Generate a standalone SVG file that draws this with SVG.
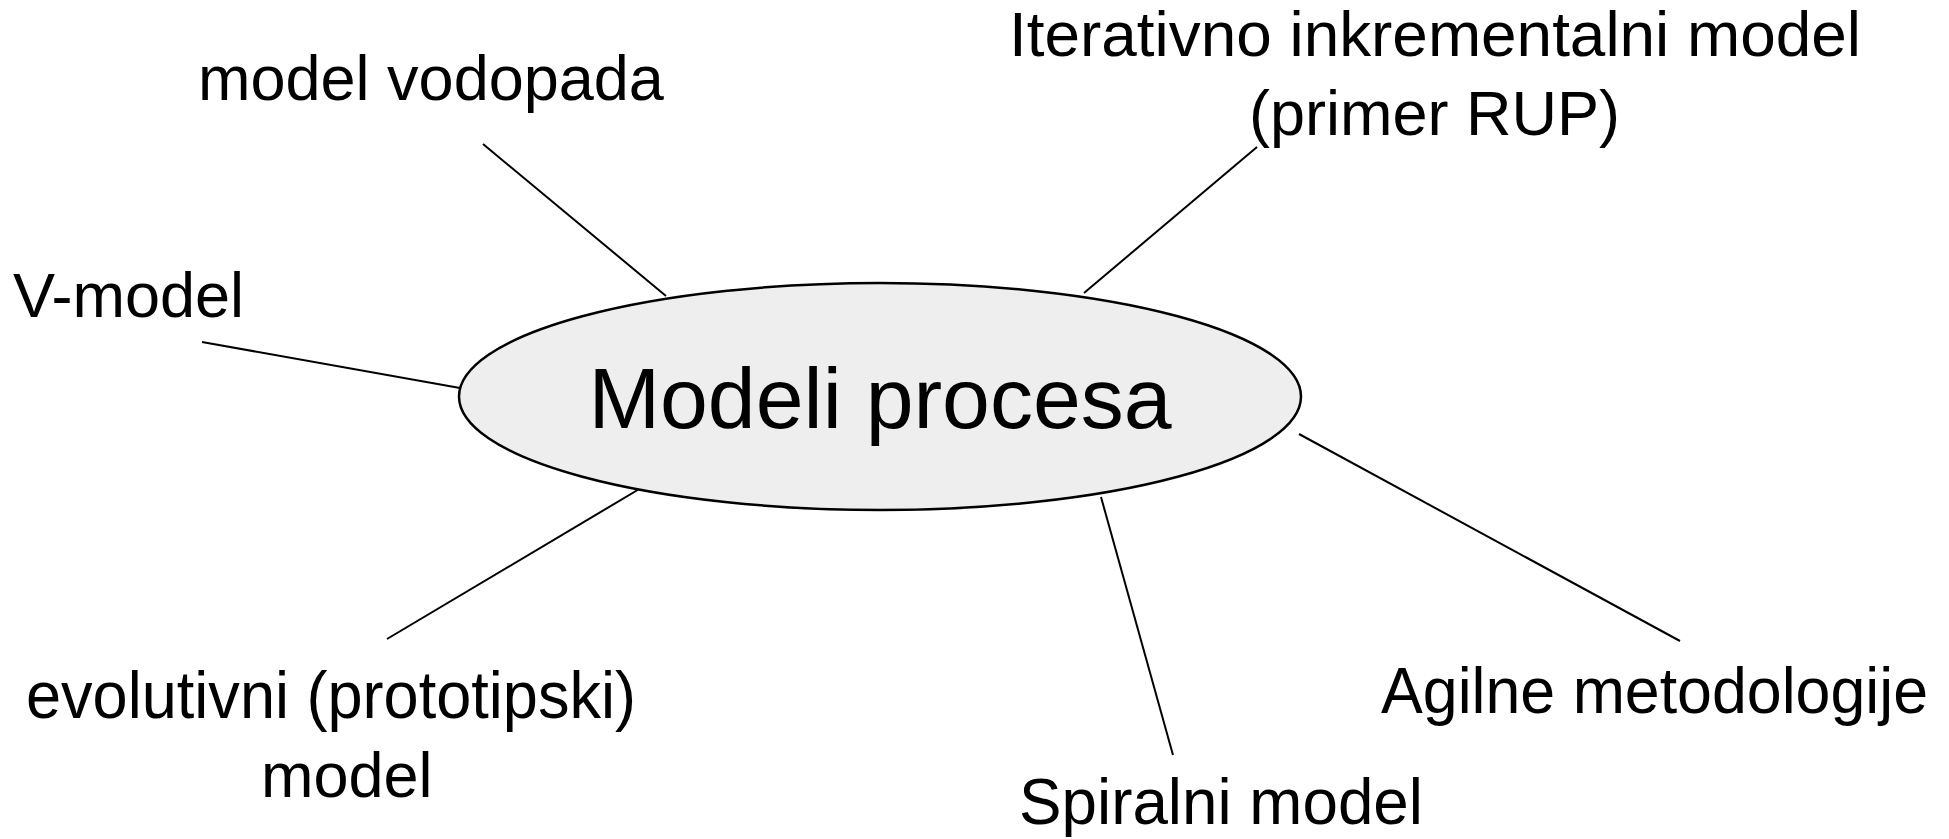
<svg xmlns="http://www.w3.org/2000/svg" width="1949" height="839" viewBox="0 0 1949 839">
<style>
.lbl{font-family:"Liberation Sans",Arial,sans-serif;font-size:63px;fill:#000}
.big{font-size:66px}
.ctr{font-family:"Liberation Sans",Arial,sans-serif;font-size:86px;fill:#000}
.con{stroke:#000;stroke-width:2;fill:none}
</style>
<rect width="1949" height="839" fill="#fff"/>
<g id="connectors">
<line class="con" x1="483" y1="144" x2="666" y2="296"/>
<line class="con" x1="202" y1="342" x2="460" y2="388"/>
<line class="con" x1="1257" y1="147" x2="1084" y2="293"/>
<line class="con" x1="641" y1="488" x2="387" y2="639"/>
<line class="con" x1="1101" y1="497" x2="1173" y2="755"/>
<line class="con" x1="1299" y1="434" x2="1680" y2="641"/>
</g>
<g id="center">
<ellipse cx="880" cy="396.5" rx="421" ry="113.5" fill="#eeeeee" stroke="#000" stroke-width="2.5"/>
<text class="ctr" x="880" y="428" text-anchor="middle">Modeli procesa</text>
</g>
<g id="vodopad"><text class="lbl" x="198" y="100">model vodopada</text></g>
<g id="vmodel"><text class="lbl" x="13" y="317">V-model</text></g>
<g id="iterativni"><text class="lbl" x="1009" y="56" textLength="852" lengthAdjust="spacingAndGlyphs">Iterativno inkrementalni model</text><text class="lbl" x="1249" y="135">(primer RUP)</text></g>
<g id="evolutivni"><text class="lbl big" x="26" y="718" textLength="610" lengthAdjust="spacingAndGlyphs">evolutivni (prototipski)</text><text class="lbl" x="261" y="797">model</text></g>
<g id="spiralni"><text class="lbl" x="1019" y="824" style="font-size:65px" textLength="404" lengthAdjust="spacingAndGlyphs">Spiralni model</text></g>
<g id="agilne"><text class="lbl" x="1381" y="713" style="font-size:64px" textLength="547" lengthAdjust="spacingAndGlyphs">Agilne metodologije</text></g>
</svg>
